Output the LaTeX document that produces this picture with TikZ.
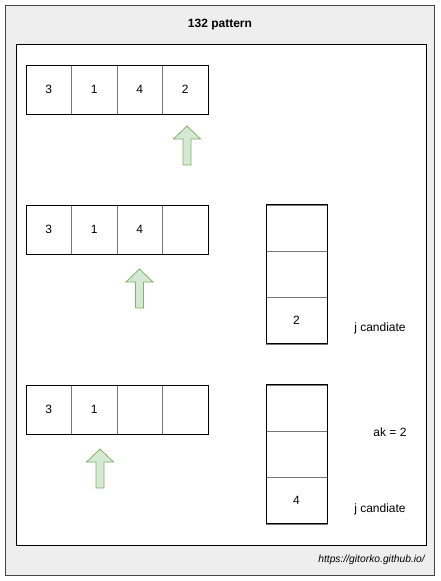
\documentclass[tikz,border=0pt]{standalone}
\usepackage{fontspec}
\setmainfont{Liberation Sans}
\usetikzlibrary{positioning}
\definecolor{framegray}{HTML}{EEEEEE}
\definecolor{frameline}{HTML}{444444}
\definecolor{divline}{HTML}{777777}
\definecolor{arrfill}{HTML}{D5E8D4}
\definecolor{arrline}{HTML}{82B366}
\begin{document}
\begin{tikzpicture}[x=1pt,y=-1pt,
  cell/.style={draw=divline, minimum width=45.5pt, minimum height=49pt, inner sep=0pt, font=\fontsize{12}{14}\selectfont, outer sep=0pt},
  scell/.style={draw=divline, minimum width=61pt, minimum height=46.3pt, inner sep=0pt, font=\fontsize{12}{14}\selectfont, outer sep=0pt},
  lbl/.style={font=\fontsize{12}{14}\selectfont, inner sep=0pt},
  uparrow/.pic={\draw[arrline, fill=arrfill, line width=0.8pt]
     (0,0) -- (13.5,13) -- (4,13) -- (4,39) -- (-4,39) -- (-4,13) -- (-13.5,13) -- cycle;}
]
\useasboundingbox (0,0) rectangle (441,581);
\draw[fill=framegray, draw=frameline, line width=1pt] (5,5) rectangle (434.5,575);
\node[font=\bfseries\fontsize{12}{14}\selectfont] (title) at (220,25) {132 pattern};
\draw[fill=white, draw=black, line width=1pt] (16,44) rectangle (426,545);

% row 1
\node[cell] (a1) at (48.75,89.5) {3};
\node[cell, right=0pt of a1] (a2) {1};
\node[cell, right=0pt of a2] (a3) {4};
\node[cell, right=0pt of a3] (a4) {2};
\draw[line width=0.8pt] (a1.north west) rectangle (a4.south east);
\pic at (187,126) {uparrow};

% row 2
\node[cell] (b1) at (48.75,229.5) {3};
\node[cell, right=0pt of b1] (b2) {1};
\node[cell, right=0pt of b2] (b3) {4};
\node[cell, right=0pt of b3] (b4) {};
\draw[line width=0.8pt] (b1.north west) rectangle (b4.south east);
\pic at (139.5,269) {uparrow};

\node[scell] (s1) at (296.5,228) {};
\node[scell, below=0pt of s1] (s2) {};
\node[scell, below=0pt of s2] (s3) {2};
\draw[line width=0.8pt] (s1.north west) rectangle (s3.south east);
\node[lbl] (j1) at (380,328) {j candiate};

% row 3
\node[cell] (c1) at (48.75,409.5) {3};
\node[cell, right=0pt of c1] (c2) {1};
\node[cell, right=0pt of c2] (c3) {};
\node[cell, right=0pt of c3] (c4) {};
\draw[line width=0.8pt] (c1.north west) rectangle (c4.south east);
\pic at (100,449) {uparrow};

\node[scell] (t1) at (296.5,408) {};
\node[scell, below=0pt of t1] (t2) {};
\node[scell, below=0pt of t2] (t3) {4};
\draw[line width=0.8pt] (t1.north west) rectangle (t3.south east);
\node[lbl] (ak) at (390,432) {ak = 2};
\node[lbl] (j2) at (380,509) {j candiate};

\node[font=\itshape\fontsize{10.3}{12}\selectfont, anchor=east, inner sep=0pt] (url) at (425,560) {https://gitorko.github.io/};
\end{tikzpicture}
\end{document}
